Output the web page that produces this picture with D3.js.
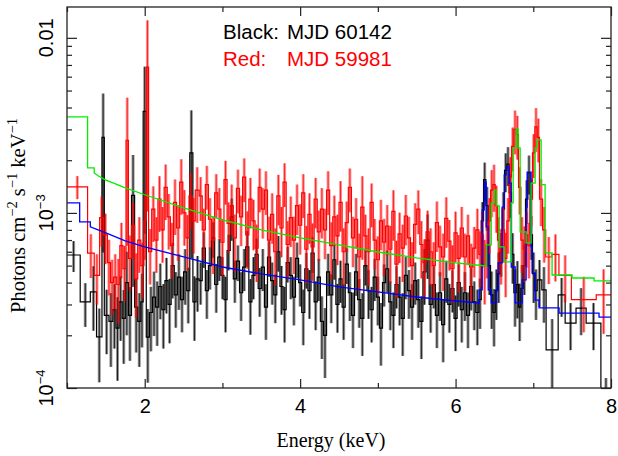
<!DOCTYPE html>
<html><head><meta charset="utf-8">
<script src="https://cdn.jsdelivr.net/npm/d3@7"></script>
<style>body{margin:0;background:#fff}svg{display:block}</style>
</head><body>
<svg id="c" width="618" height="456"></svg>
<script>
// flux unit: values below are in units of 1e-4 photons cm^-2 s^-1 keV^-1
const UNIT = 1e-4;

// ---------- shared mid-band energy grid (bin low edges, keV) ----------
const midEdges = [2.70,2.74,2.78,2.82,2.86,2.90,2.94,2.98,3.02,3.06,3.10,3.14,3.18,3.22,3.26,3.30,3.34,3.38,3.42,3.46,3.50,3.54,3.58,3.62,3.66,3.70,3.74,3.78,3.82,3.86,3.90,3.94,3.98,4.02,4.06,4.10,4.14,4.18,4.22,4.26,4.30,4.34,4.38,4.42,4.46,4.50,4.54,4.58,4.62,4.66,4.70,4.74,4.78,4.82,4.86,4.90,4.94,4.98,5.02,5.06,5.10,5.14,5.18,5.22,5.26,5.30,5.34,5.38,5.42,5.46,5.50,5.54,5.58,5.62,5.66,5.70,5.74,5.78,5.82,5.86,5.90,5.94,5.98,6.02,6.06,6.10,6.14,6.18,6.22,6.26];

// ---------- Black: MJD 60142 data (value, relative 1-sigma error) ----------
const blackLowEdges = [1.00,1.17,1.30,1.38,1.45,1.48,1.54,1.59,1.63,1.67,1.71,1.75,1.79,1.83,1.87,1.91,1.95,1.98,2.02,2.06,2.10,2.14,2.18,2.22,2.26,2.30,2.34,2.38,2.42,2.46,2.50,2.54,2.58,2.62,2.66];
const blackLowVals = [5.75,3.10,3.54,1.96,27,2.6,2.4,2.8,2.2,3.1,2.5,4.0,2.6,12.6,2.9,2.4,3.1,38,1.95,2.7,3.3,2.9,3.8,2.8,4.1,3.0,5.0,3.4,4.3,3.2,4.6,3.6,22,3.1,4.2];
const blackLowErr = [.2,.28,.4,.45,.78,.4,.45,.4,.5,.4,.45,.5,.45,.7,.45,.45,.45,.8,.45,.4,.4,.4,.35,.4,.35,.4,.35,.35,.35,.35,.35,.35,.75,.4,.35];
const blackMidVals = [4.1,6.3,3.6,5.0,7.2, 3.9,5.6,4.4,3.2,6.1, 9.5,4.2,5.3,3.5,4.9, 6.4,3.1,4.4,5.8,3.7,
  4.9,2.9,5.6,4.1,3.4, 6.0,3.8,2.8,5.2,4.4, 3.3,5.5,4.0,2.7,4.8, 3.6,5.9,3.1,4.3,2.4,
  2.0,4.6,3.4,5.4,3.0, 4.2,2.9,5.1,3.5,2.6, 4.6,3.2,2.5,5.0,3.6, 2.8,4.3,3.3,2.2,4.0,
  4.8,3.1,2.6,3.9,3.3, 2.5,4.4,3.6,2.9,4.1, 3.2,2.4,4.6,7.0,3.0, 3.9,2.6,3.5,2.3,4.2,
  3.0,3.7,2.5,4.0,2.8, 3.5,2.6,3.8,3.1,2.7];
const blackMidErr = [.27,.23,.31,.27,.23, .31,.27,.27,.35,.23, .27,.27,.23,.31,.27, .23,.35,.27,.23,.31,
  .27,.35,.23,.27,.31, .23,.31,.35,.23,.27, .31,.23,.27,.35,.23, .31,.23,.31,.27,.39,
  .43,.27,.31,.23,.31, .27,.35,.23,.31,.35, .27,.31,.39,.23,.31, .35,.27,.31,.39,.27,
  .27,.31,.35,.27,.31, .39,.27,.31,.35,.27, .31,.39,.35,.4,.31, .27,.35,.31,.39,.27,
  .31,.27,.35,.27,.35, .31,.35,.27,.31,.35];
const blackFeEdges = [6.30,6.33,6.36,6.39,6.42,6.45,6.48,6.51,6.54,6.57,6.60,6.63,6.66,6.69,6.72,6.75,6.78,6.81,6.84,6.87,6.90,6.93,6.96,6.99,7.02,7.05,7.11,7.165,7.32,7.41,7.55,7.68,7.87,8.00];
const blackFeVals = [3.2,9.0,15.5,11.0,5.0,3.4,2.7,3.6,4.5,6.0,10.5,17.5,19.0,13.0,5.8,3.5,3.9,2.9,3.7,5.0,12.0,17.0,7.5,4.5,3.6,4.14,3.63,1.65,3.4,2.35,2.86,2.35,0.6];
const blackFeErr = [.32,.28,.25,.28,.32,.36,.36,.32,.32,.28,.25,.25,.25,.28,.32,.36,.36,.36,.36,.32,.28,.25,.28,.32,.32,.3,.35,.5,.25,.3,.3,.3,.9];

// ---------- Red: MJD 59981 data ----------
const redLowEdges = [1.00,1.265,1.35,1.42,1.47,1.52,1.56,1.60,1.64,1.68,1.72,1.76,1.79,1.83,1.87,1.91,1.95,1.99,2.02,2.05,2.09,2.13,2.17,2.21,2.25,2.29,2.33,2.37,2.41,2.45,2.49,2.53,2.57,2.61,2.65];
const redLowVals = [14.1,5.9,4.4,9.4,7.5,5.2,4.0,4.3,3.9,6.5,4.8,26,5.5,8.5,4.2,7.0,5.0,9.0,68,6.0,10.5,7.0,12.0,8.0,14.0,9.5,6.5,11.5,8.2,15.0,10.0,7.2,12.5,9.0,13.5];
const redLowErr = [.15,.28,.32,.32,.32,.35,.35,.35,.4,.35,.35,.75,.35,.35,.4,.35,.35,.4,.85,.35,.35,.35,.35,.35,.35,.35,.35,.35,.35,.35,.35,.35,.35,.35,.35];
const redMidVals = [12.5,8.0,14.5,9.2,7.0, 13.0,10.5,6.8,15.5,8.7, 11.0,7.2,13.8,9.5,16.0, 7.5,12.0,9.0,6.3,14.0,
  10.5,13.5,7.0,9.8,6.0, 12.5,8.2,15.0,6.6,9.4, 7.0,11.0,8.5,13.0,6.2, 9.8,6.4,12.0,7.8,10.5,
  8.0,13.5,6.5,9.5,7.4, 11.5,6.0,8.8,14.0,7.2, 9.2,5.6,10.8,7.4,6.0, 11.5,7.0,5.4,9.0,6.8,
  8.4,6.2,10.2,5.1,7.6, 6.3,9.6,7.2,5.0,8.6, 10.5,6.6,5.2,7.8,6.0, 5.0,8.8,6.4,5.6,9.3,
  6.9,4.8,7.7,5.5,8.2, 5.6,7.4,4.9,6.3,8.0];
const redMidErr = [.28,.32,.28,.32,.36, .28,.32,.36,.28,.32, .32,.36,.28,.32,.28, .36,.32,.32,.36,.28,
  .32,.28,.36,.32,.36, .32,.32,.28,.36,.32, .36,.32,.32,.28,.36, .32,.36,.32,.32,.32,
  .32,.28,.36,.32,.32, .32,.36,.32,.28,.32, .32,.36,.5,.32,.36, .28,.32,.36,.32,.36,
  .32,.36,.32,.36,.32, .36,.32,.32,.36,.32, .28,.36,.36,.32,.36, .36,.32,.32,.36,.32,
  .32,.36,.32,.36,.32, .36,.32,.36,.32,.32];
const redFeEdges = [6.30,6.33,6.36,6.39,6.42,6.45,6.48,6.51,6.54,6.57,6.60,6.63,6.66,6.69,6.72,6.75,6.78,6.81,6.84,6.87,6.90,6.93,6.96,6.99,7.02,7.05,7.08,7.12,7.16,7.24,7.33,7.49,7.81,8.00];
const redFeVals = [5.8,7.5,5.0,6.5,9.0,13.5,14.5,11.0,7.0,6.0,8.0,5.5,9.0,16.0,24.0,30.0,28.0,14.0,7.0,6.2,7.5,6.5,12.0,22.0,31.0,27.0,12.0,8.0,5.6,5.8,4.4,3.2,3.4];
const redFeErr = [.35,.35,.4,.35,.35,.3,.3,.3,.35,.35,.35,.4,.35,.3,.28,.28,.28,.3,.35,.35,.35,.35,.3,.28,.28,.28,.3,.35,.3,.3,.3,.35,.4];

// ---------- models ----------
const greenLowEdges = [1.00,1.265,1.35], greenLowVals = [35.4,18.1];
const greenSmoothE = [1.35,1.40,1.50,1.60,1.75,2.00,2.50,3.00,3.50,4.00,4.50,5.00,5.50,6.00,6.394];
const greenSmoothV = [16.9,16.3,15.4,14.8,13.9,12.7,10.7,9.12,8.0,7.2,6.56,5.98,5.53,5.18,4.98];
const greenHighEdges = [6.394,6.459,6.497,6.523,6.561,6.626,6.716,6.741,6.780,6.805,6.831,6.908,6.972,7.024,7.049,7.101,7.152,7.242,7.499,7.782,8.00];
const greenHighVals = [6.56,11.4,13.5,10.96,6.39,5.25,11.4,23.5,30.2,23.5,7.79,6.74,14.8,23.5,26.1,14.5,5.91,4.42,4.25,4.09];

const blueLowEdges = [1.00,1.163,1.30], blueLowVals = [11.4,8.89];
const blueSmoothE = [1.30,1.40,1.50,1.75,2.00,2.50,3.00,3.50,4.00,4.50,5.00,5.50,6.00,6.304];
const blueSmoothV = [8.32,8.0,7.69,6.92,6.39,5.61,4.91,4.48,4.14,3.78,3.54,3.31,3.14,3.06];
const blueHighEdges = [6.304,6.343,6.369,6.394,6.420,6.459,6.523,6.548,6.600,6.626,6.651,6.690,6.716,6.767,6.857,6.908,6.921,6.972,6.985,7.024,7.075,7.332,7.846,8.00];
const blueHighVals = [3.63,10.4,15.0,8.32,3.63,3.06,3.63,5.18,10.8,16.5,18.3,14.8,4.91,3.06,4.14,10.8,17.1,6.39,4.54,3.18,2.87,2.68,2.54];

// ---------- ticks / labels ----------
const xMajorTicks = [2,4,6,8], xMinorTicks = [1,3,5,7];
const yMajorTicks = [1e-4,1e-3,1e-2];
const yMinorTicks = [2e-4,3e-4,4e-4,5e-4,6e-4,7e-4,8e-4,9e-4,2e-3,3e-3,4e-3,5e-3,6e-3,7e-3,8e-3,9e-3];
const yTickLabels = [{v:1e-2, base:"0.01", sup:""},{v:1e-3, base:"10", sup:"\u22123"},{v:1e-4, base:"10", sup:"\u22124"}];
const legendLines = [{who:"Black:", obs:"MJD 60142", color:"#000"},{who:"Red:", obs:"MJD 59981", color:"#ff0000"}];

// ---------- drawing ----------
const L=67,R=611,T=7,B=388;
const svg = d3.select("#c");
const x = d3.scaleLinear().domain([1,8]).range([L,R]);
const y = d3.scaleLog().domain([1e-4,0.015]).range([B,T]);
const sans = "'Liberation Sans', Arial, Helvetica, sans-serif";
const serif = "'Liberation Serif', 'Times New Roman', Times, serif";

svg.append("defs").append("clipPath").attr("id","clip").append("rect")
  .attr("x",L).attr("y",T).attr("width",R-L).attr("height",B-T);
const plot = svg.append("g").attr("clip-path","url(#clip)");

function makeBins(edges, vals, errs){
  return vals.map((v,i)=>({e0:edges[i], e1:edges[i+1], v:v*UNIT, r:errs[i]}));
}
const blackBins = [
  ...makeBins([...blackLowEdges, midEdges[0]], blackLowVals, blackLowErr),
  ...makeBins([...midEdges, blackFeEdges[0]], blackMidVals, blackMidErr),
  ...makeBins(blackFeEdges, blackFeVals, blackFeErr)];
const redBins = [
  ...makeBins([...redLowEdges, midEdges[0]], redLowVals, redLowErr),
  ...makeBins([...midEdges, redFeEdges[0]], redMidVals, redMidErr),
  ...makeBins(redFeEdges, redFeVals, redFeErr)];

const line = d3.line().x(d=>x(d[0])).y(d=>y(d[1]));

function drawData(bins, color){
  const g = plot.append("g");
  const cx = d=>x((d.e0+d.e1)/2);
  const lo = d=>y(Math.max(d.v*(1-d.r), 1e-6));
  const hi = d=>y(d.v*(1+d.r));
  g.selectAll("line.wide").data(bins).join("line").attr("class","wide")
    .attr("x1",cx).attr("x2",cx).attr("y1",lo).attr("y2",hi)
    .attr("stroke",color).attr("stroke-width",3).attr("stroke-opacity",0.42);
  g.selectAll("line.thin").data(bins).join("line").attr("class","thin")
    .attr("x1",cx).attr("x2",cx).attr("y1",lo).attr("y2",hi)
    .attr("stroke",color).attr("stroke-width",1).attr("stroke-opacity",0.8);
  const pts=[]; bins.forEach(d=>{pts.push([d.e0,d.v]);pts.push([d.e1,d.v]);});
  g.append("path").attr("d",line(pts)).attr("fill","none")
    .attr("stroke",color).attr("stroke-width",1.2);
}
function modelPoints(lowE, lowV, smE, smV, hiE, hiV){
  const pts=[];
  lowV.forEach((v,i)=>{pts.push([lowE[i],v*UNIT]);pts.push([lowE[i+1],v*UNIT]);});
  smE.forEach((e,i)=>pts.push([e,smV[i]*UNIT]));
  hiV.forEach((v,i)=>{pts.push([hiE[i],v*UNIT]);pts.push([hiE[i+1],v*UNIT]);});
  return pts;
}
drawData(blackBins, "#000000");
drawData(redBins, "#ff0000");
plot.append("path").attr("d",line(modelPoints(blueLowEdges,blueLowVals,blueSmoothE,blueSmoothV,blueHighEdges,blueHighVals)))
  .attr("fill","none").attr("stroke","#0000ff").attr("stroke-width",1.3);
plot.append("path").attr("d",line(modelPoints(greenLowEdges,greenLowVals,greenSmoothE,greenSmoothV,greenHighEdges,greenHighVals)))
  .attr("fill","none").attr("stroke","#00ee00").attr("stroke-width",1.3);

// frame
svg.append("rect").attr("x",L).attr("y",T).attr("width",R-L).attr("height",B-T)
  .attr("fill","none").attr("stroke","#222").attr("stroke-width",1.3);

function styleAxis(g){ g.select(".domain").remove(); g.selectAll(".tick line").attr("stroke","#222").attr("stroke-width",1.2); }
const xb = svg.append("g").attr("transform",`translate(0,${B})`)
  .call(d3.axisBottom(x).tickValues(xMajorTicks).tickSize(-9).tickPadding(11).tickFormat(d3.format("d")));
styleAxis(xb);
xb.selectAll("text").attr("font-family",sans).attr("font-size",20).attr("fill","#000");
svg.append("g").attr("transform",`translate(0,${B})`)
  .call(d3.axisBottom(x).tickValues(xMinorTicks).tickSize(-5).tickFormat("")).call(styleAxis);
svg.append("g").attr("transform",`translate(0,${T})`)
  .call(d3.axisTop(x).tickValues(xMajorTicks).tickSize(-9).tickFormat("")).call(styleAxis);
svg.append("g").attr("transform",`translate(0,${T})`)
  .call(d3.axisTop(x).tickValues(xMinorTicks).tickSize(-5).tickFormat("")).call(styleAxis);
svg.append("g").attr("transform",`translate(${L},0)`)
  .call(d3.axisLeft(y).tickValues(yMajorTicks).tickSize(-10).tickFormat("")).call(styleAxis);
svg.append("g").attr("transform",`translate(${L},0)`)
  .call(d3.axisLeft(y).tickValues(yMinorTicks).tickSize(-5).tickFormat("")).call(styleAxis);
svg.append("g").attr("transform",`translate(${R},0)`)
  .call(d3.axisRight(y).tickValues(yMajorTicks).tickSize(-10).tickFormat("")).call(styleAxis);
svg.append("g").attr("transform",`translate(${R},0)`)
  .call(d3.axisRight(y).tickValues(yMinorTicks).tickSize(-5).tickFormat("")).call(styleAxis);

yTickLabels.forEach(t=>{
  const tx = svg.append("text").attr("transform",`translate(53,${y(t.v)}) rotate(-90)`)
    .attr("text-anchor","middle").attr("font-family",sans).attr("font-size",20).attr("fill","#000");
  tx.append("tspan").text(t.base);
  if(t.sup) tx.append("tspan").attr("dy",-8).attr("font-size",13).text(t.sup);
});

svg.append("text").attr("x",331).attr("y",447).attr("text-anchor","middle")
  .attr("font-family",serif).attr("font-size",20).attr("fill","#000").text("Energy (keV)");
const yt = svg.append("text").attr("transform",`translate(25,313) rotate(-90)`)
  .attr("font-family",serif).attr("font-size",20.5).attr("fill","#000");
yt.append("tspan").text("Photons cm");
yt.append("tspan").attr("dy",-8).attr("font-size",14.5).text("\u22122");
yt.append("tspan").attr("dy",8).text(" s");
yt.append("tspan").attr("dy",-8).attr("font-size",14.5).text("\u22121");
yt.append("tspan").attr("dy",8).text(" keV");
yt.append("tspan").attr("dy",-8).attr("font-size",14.5).text("\u22121");

legendLines.forEach((l,i)=>{
  const t = svg.append("text").attr("y",39+27*i).attr("font-family",sans).attr("font-size",20.5).attr("fill",l.color);
  t.append("tspan").attr("x",223).text(l.who);
  t.append("tspan").attr("x",287).text(l.obs);
});
</script>
</body></html>
